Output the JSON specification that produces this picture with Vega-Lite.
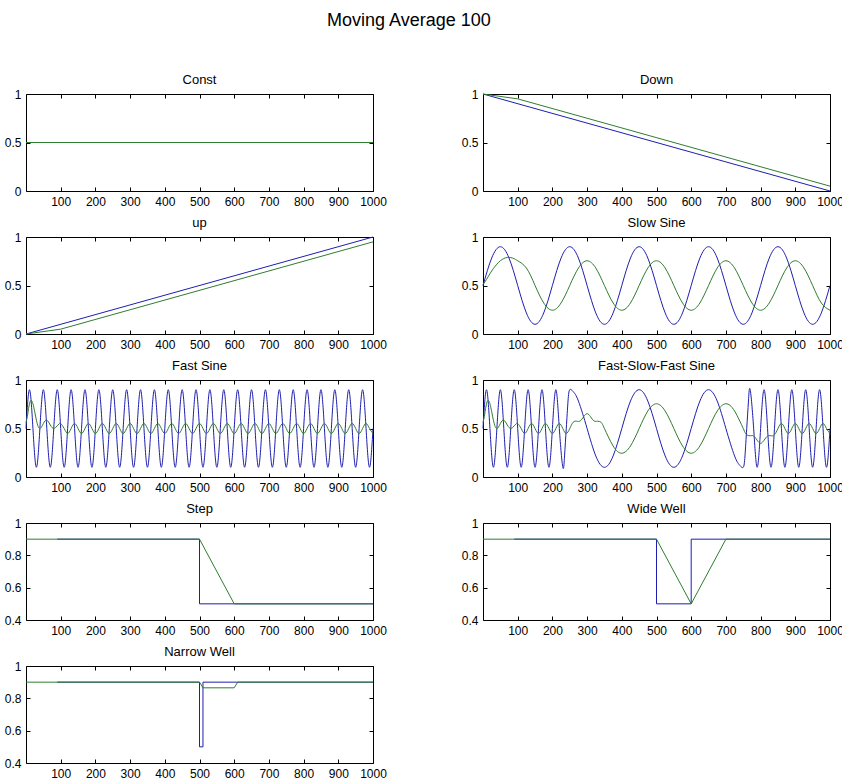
{
"$schema": "https://vega.github.io/schema/vega-lite/v6.json",
"padding": {"left": 3, "top": 11, "right": 0, "bottom": 0},
"background": "#ffffff",
"title": {"text": "Moving Average 100", "fontSize": 18, "anchor": "middle", "offset": 44, "dx": -15},
"columns": 2,
"spacing": {"row": 46, "column": 110},
"bounds": "flush",
"datasets": {
"const_b": [{"x":0,"y":0.5},{"x":1000,"y":0.5}],
"const_g": [{"x":0,"y":0.5},{"x":1000,"y":0.5}],
"down_b": [{"x":0,"y":1},{"x":1000,"y":0}],
"down_g": [{"x":0,"y":1},{"x":100,"y":0.95},{"x":1000,"y":0.05}],
"up_b": [{"x":0,"y":0},{"x":1000,"y":1}],
"up_g": [{"x":0,"y":0},{"x":100,"y":0.05},{"x":1000,"y":0.95}],
"slow_b": [{"x":0,"y":0.5},{"x":25,"y":0.783},{"x":50,"y":0.9},{"x":75,"y":0.783},{"x":100,"y":0.5},{"x":125,"y":0.217},{"x":150,"y":0.1},{"x":175,"y":0.217},{"x":200,"y":0.5},{"x":225,"y":0.783},{"x":250,"y":0.9},{"x":275,"y":0.783},{"x":300,"y":0.5},{"x":325,"y":0.217},{"x":350,"y":0.1},{"x":375,"y":0.217},{"x":400,"y":0.5},{"x":425,"y":0.783},{"x":450,"y":0.9},{"x":475,"y":0.783},{"x":500,"y":0.5},{"x":525,"y":0.217},{"x":550,"y":0.1},{"x":575,"y":0.217},{"x":600,"y":0.5},{"x":625,"y":0.783},{"x":650,"y":0.9},{"x":675,"y":0.783},{"x":700,"y":0.5},{"x":725,"y":0.217},{"x":750,"y":0.1},{"x":775,"y":0.217},{"x":800,"y":0.5},{"x":825,"y":0.783},{"x":850,"y":0.9},{"x":875,"y":0.783},{"x":900,"y":0.5},{"x":925,"y":0.217},{"x":950,"y":0.1},{"x":975,"y":0.217},{"x":1000,"y":0.5}],
"slow_g": [{"x":0,"y":0.51},{"x":10,"y":0.562},{"x":20,"y":0.622},{"x":30,"y":0.675},{"x":40,"y":0.72},{"x":50,"y":0.755},{"x":60,"y":0.778},{"x":70,"y":0.789},{"x":80,"y":0.788},{"x":90,"y":0.776},{"x":100,"y":0.755},{"x":125,"y":0.68},{"x":150,"y":0.5},{"x":175,"y":0.32},{"x":200,"y":0.245},{"x":225,"y":0.32},{"x":250,"y":0.5},{"x":275,"y":0.68},{"x":300,"y":0.755},{"x":325,"y":0.68},{"x":350,"y":0.5},{"x":375,"y":0.32},{"x":400,"y":0.245},{"x":425,"y":0.32},{"x":450,"y":0.5},{"x":475,"y":0.68},{"x":500,"y":0.755},{"x":525,"y":0.68},{"x":550,"y":0.5},{"x":575,"y":0.32},{"x":600,"y":0.245},{"x":625,"y":0.32},{"x":650,"y":0.5},{"x":675,"y":0.68},{"x":700,"y":0.755},{"x":725,"y":0.68},{"x":750,"y":0.5},{"x":775,"y":0.32},{"x":800,"y":0.245},{"x":825,"y":0.32},{"x":850,"y":0.5},{"x":875,"y":0.68},{"x":900,"y":0.755},{"x":925,"y":0.68},{"x":950,"y":0.5},{"x":975,"y":0.32},{"x":1000,"y":0.245}],
"fast_b": [{"x":0,"y":0.5},{"x":10,"y":0.9},{"x":20,"y":0.5},{"x":30,"y":0.1},{"x":40,"y":0.5},{"x":50,"y":0.9},{"x":60,"y":0.5},{"x":70,"y":0.1},{"x":80,"y":0.5},{"x":90,"y":0.9},{"x":100,"y":0.5},{"x":110,"y":0.1},{"x":120,"y":0.5},{"x":130,"y":0.9},{"x":140,"y":0.5},{"x":150,"y":0.1},{"x":160,"y":0.5},{"x":170,"y":0.9},{"x":180,"y":0.5},{"x":190,"y":0.1},{"x":200,"y":0.5},{"x":210,"y":0.9},{"x":220,"y":0.5},{"x":230,"y":0.1},{"x":240,"y":0.5},{"x":250,"y":0.9},{"x":260,"y":0.5},{"x":270,"y":0.1},{"x":280,"y":0.5},{"x":290,"y":0.9},{"x":300,"y":0.5},{"x":310,"y":0.1},{"x":320,"y":0.5},{"x":330,"y":0.9},{"x":340,"y":0.5},{"x":350,"y":0.1},{"x":360,"y":0.5},{"x":370,"y":0.9},{"x":380,"y":0.5},{"x":390,"y":0.1},{"x":400,"y":0.5},{"x":410,"y":0.9},{"x":420,"y":0.5},{"x":430,"y":0.1},{"x":440,"y":0.5},{"x":450,"y":0.9},{"x":460,"y":0.5},{"x":470,"y":0.1},{"x":480,"y":0.5},{"x":490,"y":0.9},{"x":500,"y":0.5},{"x":510,"y":0.1},{"x":520,"y":0.5},{"x":530,"y":0.9},{"x":540,"y":0.5},{"x":550,"y":0.1},{"x":560,"y":0.5},{"x":570,"y":0.9},{"x":580,"y":0.5},{"x":590,"y":0.1},{"x":600,"y":0.5},{"x":610,"y":0.9},{"x":620,"y":0.5},{"x":630,"y":0.1},{"x":640,"y":0.5},{"x":650,"y":0.9},{"x":660,"y":0.5},{"x":670,"y":0.1},{"x":680,"y":0.5},{"x":690,"y":0.9},{"x":700,"y":0.5},{"x":710,"y":0.1},{"x":720,"y":0.5},{"x":730,"y":0.9},{"x":740,"y":0.5},{"x":750,"y":0.1},{"x":760,"y":0.5},{"x":770,"y":0.9},{"x":780,"y":0.5},{"x":790,"y":0.1},{"x":800,"y":0.5},{"x":810,"y":0.9},{"x":820,"y":0.5},{"x":830,"y":0.1},{"x":840,"y":0.5},{"x":850,"y":0.9},{"x":860,"y":0.5},{"x":870,"y":0.1},{"x":880,"y":0.5},{"x":890,"y":0.9},{"x":900,"y":0.5},{"x":910,"y":0.1},{"x":920,"y":0.5},{"x":930,"y":0.9},{"x":940,"y":0.5},{"x":950,"y":0.1},{"x":960,"y":0.5},{"x":970,"y":0.9},{"x":980,"y":0.5},{"x":990,"y":0.1},{"x":1000,"y":0.5}],
"fast_g": [{"x":0,"y":0.56},{"x":5,"y":0.649},{"x":10,"y":0.755},{"x":15,"y":0.79},{"x":20,"y":0.755},{"x":25,"y":0.674},{"x":30,"y":0.585},{"x":35,"y":0.521},{"x":40,"y":0.5},{"x":45,"y":0.517},{"x":50,"y":0.551},{"x":55,"y":0.579},{"x":60,"y":0.585},{"x":65,"y":0.567},{"x":70,"y":0.536},{"x":75,"y":0.51},{"x":80,"y":0.5},{"x":85,"y":0.509},{"x":90,"y":0.528},{"x":95,"y":0.546},{"x":100,"y":0.551},{"x":110,"y":0.5},{"x":120,"y":0.449},{"x":130,"y":0.5},{"x":140,"y":0.551},{"x":150,"y":0.5},{"x":160,"y":0.449},{"x":170,"y":0.5},{"x":180,"y":0.551},{"x":190,"y":0.5},{"x":200,"y":0.449},{"x":210,"y":0.5},{"x":220,"y":0.551},{"x":230,"y":0.5},{"x":240,"y":0.449},{"x":250,"y":0.5},{"x":260,"y":0.551},{"x":270,"y":0.5},{"x":280,"y":0.449},{"x":290,"y":0.5},{"x":300,"y":0.551},{"x":310,"y":0.5},{"x":320,"y":0.449},{"x":330,"y":0.5},{"x":340,"y":0.551},{"x":350,"y":0.5},{"x":360,"y":0.449},{"x":370,"y":0.5},{"x":380,"y":0.551},{"x":390,"y":0.5},{"x":400,"y":0.449},{"x":410,"y":0.5},{"x":420,"y":0.551},{"x":430,"y":0.5},{"x":440,"y":0.449},{"x":450,"y":0.5},{"x":460,"y":0.551},{"x":470,"y":0.5},{"x":480,"y":0.449},{"x":490,"y":0.5},{"x":500,"y":0.551},{"x":510,"y":0.5},{"x":520,"y":0.449},{"x":530,"y":0.5},{"x":540,"y":0.551},{"x":550,"y":0.5},{"x":560,"y":0.449},{"x":570,"y":0.5},{"x":580,"y":0.551},{"x":590,"y":0.5},{"x":600,"y":0.449},{"x":610,"y":0.5},{"x":620,"y":0.551},{"x":630,"y":0.5},{"x":640,"y":0.449},{"x":650,"y":0.5},{"x":660,"y":0.551},{"x":670,"y":0.5},{"x":680,"y":0.449},{"x":690,"y":0.5},{"x":700,"y":0.551},{"x":710,"y":0.5},{"x":720,"y":0.449},{"x":730,"y":0.5},{"x":740,"y":0.551},{"x":750,"y":0.5},{"x":760,"y":0.449},{"x":770,"y":0.5},{"x":780,"y":0.551},{"x":790,"y":0.5},{"x":800,"y":0.449},{"x":810,"y":0.5},{"x":820,"y":0.551},{"x":830,"y":0.5},{"x":840,"y":0.449},{"x":850,"y":0.5},{"x":860,"y":0.551},{"x":870,"y":0.5},{"x":880,"y":0.449},{"x":890,"y":0.5},{"x":900,"y":0.551},{"x":910,"y":0.5},{"x":920,"y":0.449},{"x":930,"y":0.5},{"x":940,"y":0.551},{"x":950,"y":0.5},{"x":960,"y":0.449},{"x":970,"y":0.5},{"x":980,"y":0.551},{"x":990,"y":0.5},{"x":1000,"y":0.449}],
"fsf_b": [{"x":0,"y":0.5},{"x":10,"y":0.9},{"x":20,"y":0.5},{"x":30,"y":0.1},{"x":40,"y":0.5},{"x":50,"y":0.9},{"x":60,"y":0.5},{"x":70,"y":0.1},{"x":80,"y":0.5},{"x":90,"y":0.9},{"x":100,"y":0.5},{"x":110,"y":0.1},{"x":120,"y":0.5},{"x":130,"y":0.9},{"x":140,"y":0.5},{"x":150,"y":0.1},{"x":160,"y":0.5},{"x":170,"y":0.9},{"x":180,"y":0.5},{"x":190,"y":0.1},{"x":200,"y":0.5},{"x":210,"y":0.9},{"x":220,"y":0.5},{"x":230,"y":0.1},{"x":235,"y":0.217},{"x":240,"y":0.5},{"x":245,"y":0.783},{"x":250,"y":0.9},{"x":260,"y":0.88},{"x":275,"y":0.783},{"x":300,"y":0.5},{"x":325,"y":0.217},{"x":350,"y":0.1},{"x":375,"y":0.217},{"x":400,"y":0.5},{"x":425,"y":0.783},{"x":450,"y":0.9},{"x":475,"y":0.783},{"x":500,"y":0.5},{"x":525,"y":0.217},{"x":550,"y":0.1},{"x":575,"y":0.217},{"x":600,"y":0.5},{"x":625,"y":0.783},{"x":650,"y":0.9},{"x":675,"y":0.783},{"x":700,"y":0.5},{"x":725,"y":0.217},{"x":740,"y":0.12},{"x":750,"y":0.1},{"x":755,"y":0.217},{"x":760,"y":0.5},{"x":765,"y":0.783},{"x":770,"y":0.9},{"x":780,"y":0.5},{"x":790,"y":0.1},{"x":800,"y":0.5},{"x":810,"y":0.9},{"x":820,"y":0.5},{"x":830,"y":0.1},{"x":840,"y":0.5},{"x":850,"y":0.9},{"x":860,"y":0.5},{"x":870,"y":0.1},{"x":880,"y":0.5},{"x":890,"y":0.9},{"x":900,"y":0.5},{"x":910,"y":0.1},{"x":920,"y":0.5},{"x":930,"y":0.9},{"x":940,"y":0.5},{"x":950,"y":0.1},{"x":960,"y":0.5},{"x":970,"y":0.9},{"x":980,"y":0.5},{"x":990,"y":0.1},{"x":1000,"y":0.5}],
"fsf_g": [{"x":0,"y":0.56},{"x":5,"y":0.649},{"x":10,"y":0.755},{"x":15,"y":0.79},{"x":20,"y":0.755},{"x":25,"y":0.674},{"x":30,"y":0.585},{"x":35,"y":0.521},{"x":40,"y":0.5},{"x":45,"y":0.517},{"x":50,"y":0.551},{"x":55,"y":0.579},{"x":60,"y":0.585},{"x":65,"y":0.567},{"x":70,"y":0.536},{"x":75,"y":0.51},{"x":80,"y":0.5},{"x":85,"y":0.509},{"x":90,"y":0.528},{"x":95,"y":0.546},{"x":100,"y":0.551},{"x":110,"y":0.5},{"x":120,"y":0.449},{"x":130,"y":0.5},{"x":140,"y":0.551},{"x":150,"y":0.5},{"x":160,"y":0.449},{"x":170,"y":0.5},{"x":180,"y":0.551},{"x":190,"y":0.5},{"x":200,"y":0.449},{"x":210,"y":0.5},{"x":220,"y":0.551},{"x":230,"y":0.5},{"x":240,"y":0.449},{"x":250,"y":0.5},{"x":260,"y":0.565},{"x":270,"y":0.575},{"x":280,"y":0.578},{"x":290,"y":0.621},{"x":300,"y":0.653},{"x":310,"y":0.621},{"x":320,"y":0.578},{"x":330,"y":0.575},{"x":340,"y":0.565},{"x":350,"y":0.5},{"x":375,"y":0.32},{"x":400,"y":0.245},{"x":425,"y":0.32},{"x":450,"y":0.5},{"x":475,"y":0.68},{"x":500,"y":0.755},{"x":525,"y":0.68},{"x":550,"y":0.5},{"x":575,"y":0.32},{"x":600,"y":0.245},{"x":625,"y":0.32},{"x":650,"y":0.5},{"x":675,"y":0.68},{"x":700,"y":0.755},{"x":725,"y":0.68},{"x":750,"y":0.5},{"x":760,"y":0.435},{"x":770,"y":0.425},{"x":780,"y":0.4225},{"x":790,"y":0.379},{"x":800,"y":0.347},{"x":810,"y":0.379},{"x":820,"y":0.4225},{"x":830,"y":0.425},{"x":840,"y":0.435},{"x":850,"y":0.5},{"x":860,"y":0.551},{"x":870,"y":0.5},{"x":880,"y":0.449},{"x":890,"y":0.5},{"x":900,"y":0.551},{"x":910,"y":0.5},{"x":920,"y":0.449},{"x":930,"y":0.5},{"x":940,"y":0.551},{"x":950,"y":0.5},{"x":960,"y":0.449},{"x":970,"y":0.5},{"x":980,"y":0.551},{"x":990,"y":0.5},{"x":1000,"y":0.449}],
"step_b": [{"x":90,"y":0.9},{"x":500,"y":0.9},{"x":500,"y":0.5},{"x":1000,"y":0.5}],
"step_g": [{"x":0,"y":0.9},{"x":500,"y":0.9},{"x":600,"y":0.5},{"x":1000,"y":0.5}],
"wide_b": [{"x":90,"y":0.9},{"x":500,"y":0.9},{"x":500,"y":0.5},{"x":600,"y":0.5},{"x":600,"y":0.9},{"x":1000,"y":0.9}],
"wide_g": [{"x":0,"y":0.9},{"x":500,"y":0.9},{"x":600,"y":0.5},{"x":700,"y":0.9},{"x":1000,"y":0.9}],
"narrow_b": [{"x":90,"y":0.9},{"x":500,"y":0.9},{"x":500,"y":0.5},{"x":510,"y":0.5},{"x":510,"y":0.9},{"x":1000,"y":0.9}],
"narrow_g": [{"x":0,"y":0.9},{"x":500,"y":0.9},{"x":510,"y":0.865},{"x":600,"y":0.865},{"x":610,"y":0.9},{"x":1000,"y":0.9}]
},
"concat": [
{"title": "Const", "width": 347, "height": 97,
 "layer": [
  {"data": {"name": "const_b"}, "mark": {"type": "line", "color": "#1e1eb0"},
   "encoding": {"x": {"field": "x", "type": "quantitative", "scale": {"domain": [0, 1000], "nice": false}, "axis": {"orient": "bottom", "values": [100,200,300,400,500,600,700,800,900,1000], "format": "d", "title": null}},
                "y": {"field": "y", "type": "quantitative", "scale": {"domain": [0, 1], "nice": false, "zero": false}, "axis": {"orient": "left", "values": [0,0.5,1], "format": "~g", "title": null}}}},
  {"data": {"name": "const_g"}, "mark": {"type": "line", "color": "#2e7d2e"},
   "encoding": {"x": {"field": "x", "type": "quantitative", "axis": {"orient": "top", "values": [100,200,300,400,500,600,700,800,900,1000], "labels": false, "title": null}},
                "y": {"field": "y", "type": "quantitative", "axis": {"orient": "right", "values": [0,0.5,1], "labels": false, "title": null}}}}
 ],
 "resolve": {"axis": {"x": "independent", "y": "independent"}}},
{"title": "Down", "width": 347, "height": 97,
 "layer": [
  {"data": {"name": "down_b"}, "mark": {"type": "line", "color": "#1e1eb0"},
   "encoding": {"x": {"field": "x", "type": "quantitative", "scale": {"domain": [0, 1000], "nice": false}, "axis": {"orient": "bottom", "values": [100,200,300,400,500,600,700,800,900,1000], "format": "d", "title": null}},
                "y": {"field": "y", "type": "quantitative", "scale": {"domain": [0, 1], "nice": false, "zero": false}, "axis": {"orient": "left", "values": [0,0.5,1], "format": "~g", "title": null}}}},
  {"data": {"name": "down_g"}, "mark": {"type": "line", "color": "#2e7d2e"},
   "encoding": {"x": {"field": "x", "type": "quantitative", "axis": {"orient": "top", "values": [100,200,300,400,500,600,700,800,900,1000], "labels": false, "title": null}},
                "y": {"field": "y", "type": "quantitative", "axis": {"orient": "right", "values": [0,0.5,1], "labels": false, "title": null}}}}
 ],
 "resolve": {"axis": {"x": "independent", "y": "independent"}}},
{"title": "up", "width": 347, "height": 97,
 "layer": [
  {"data": {"name": "up_b"}, "mark": {"type": "line", "color": "#1e1eb0"},
   "encoding": {"x": {"field": "x", "type": "quantitative", "scale": {"domain": [0, 1000], "nice": false}, "axis": {"orient": "bottom", "values": [100,200,300,400,500,600,700,800,900,1000], "format": "d", "title": null}},
                "y": {"field": "y", "type": "quantitative", "scale": {"domain": [0, 1], "nice": false, "zero": false}, "axis": {"orient": "left", "values": [0,0.5,1], "format": "~g", "title": null}}}},
  {"data": {"name": "up_g"}, "mark": {"type": "line", "color": "#2e7d2e"},
   "encoding": {"x": {"field": "x", "type": "quantitative", "axis": {"orient": "top", "values": [100,200,300,400,500,600,700,800,900,1000], "labels": false, "title": null}},
                "y": {"field": "y", "type": "quantitative", "axis": {"orient": "right", "values": [0,0.5,1], "labels": false, "title": null}}}}
 ],
 "resolve": {"axis": {"x": "independent", "y": "independent"}}},
{"title": "Slow Sine", "width": 347, "height": 97,
 "layer": [
  {"data": {"name": "slow_b"}, "mark": {"type": "line", "color": "#1e1eb0", "interpolate": "natural"},
   "encoding": {"x": {"field": "x", "type": "quantitative", "scale": {"domain": [0, 1000], "nice": false}, "axis": {"orient": "bottom", "values": [100,200,300,400,500,600,700,800,900,1000], "format": "d", "title": null}},
                "y": {"field": "y", "type": "quantitative", "scale": {"domain": [0, 1], "nice": false, "zero": false}, "axis": {"orient": "left", "values": [0,0.5,1], "format": "~g", "title": null}}}},
  {"data": {"name": "slow_g"}, "mark": {"type": "line", "color": "#2e7d2e", "interpolate": "natural"},
   "encoding": {"x": {"field": "x", "type": "quantitative", "axis": {"orient": "top", "values": [100,200,300,400,500,600,700,800,900,1000], "labels": false, "title": null}},
                "y": {"field": "y", "type": "quantitative", "axis": {"orient": "right", "values": [0,0.5,1], "labels": false, "title": null}}}}
 ],
 "resolve": {"axis": {"x": "independent", "y": "independent"}}},
{"title": "Fast Sine", "width": 347, "height": 97,
 "layer": [
  {"data": {"name": "fast_b"}, "mark": {"type": "line", "color": "#1e1eb0", "interpolate": "natural"},
   "encoding": {"x": {"field": "x", "type": "quantitative", "scale": {"domain": [0, 1000], "nice": false}, "axis": {"orient": "bottom", "values": [100,200,300,400,500,600,700,800,900,1000], "format": "d", "title": null}},
                "y": {"field": "y", "type": "quantitative", "scale": {"domain": [0, 1], "nice": false, "zero": false}, "axis": {"orient": "left", "values": [0,0.5,1], "format": "~g", "title": null}}}},
  {"data": {"name": "fast_g"}, "mark": {"type": "line", "color": "#2e7d2e", "interpolate": "natural"},
   "encoding": {"x": {"field": "x", "type": "quantitative", "axis": {"orient": "top", "values": [100,200,300,400,500,600,700,800,900,1000], "labels": false, "title": null}},
                "y": {"field": "y", "type": "quantitative", "axis": {"orient": "right", "values": [0,0.5,1], "labels": false, "title": null}}}}
 ],
 "resolve": {"axis": {"x": "independent", "y": "independent"}}},
{"title": "Fast-Slow-Fast Sine", "width": 347, "height": 97,
 "layer": [
  {"data": {"name": "fsf_b"}, "mark": {"type": "line", "color": "#1e1eb0", "interpolate": "natural"},
   "encoding": {"x": {"field": "x", "type": "quantitative", "scale": {"domain": [0, 1000], "nice": false}, "axis": {"orient": "bottom", "values": [100,200,300,400,500,600,700,800,900,1000], "format": "d", "title": null}},
                "y": {"field": "y", "type": "quantitative", "scale": {"domain": [0, 1], "nice": false, "zero": false}, "axis": {"orient": "left", "values": [0,0.5,1], "format": "~g", "title": null}}}},
  {"data": {"name": "fsf_g"}, "mark": {"type": "line", "color": "#2e7d2e", "interpolate": "natural"},
   "encoding": {"x": {"field": "x", "type": "quantitative", "axis": {"orient": "top", "values": [100,200,300,400,500,600,700,800,900,1000], "labels": false, "title": null}},
                "y": {"field": "y", "type": "quantitative", "axis": {"orient": "right", "values": [0,0.5,1], "labels": false, "title": null}}}}
 ],
 "resolve": {"axis": {"x": "independent", "y": "independent"}}},
{"title": "Step", "width": 347, "height": 97,
 "layer": [
  {"data": {"name": "step_b"}, "mark": {"type": "line", "color": "#1e1eb0"},
   "encoding": {"x": {"field": "x", "type": "quantitative", "scale": {"domain": [0, 1000], "nice": false}, "axis": {"orient": "bottom", "values": [100,200,300,400,500,600,700,800,900,1000], "format": "d", "title": null}},
                "y": {"field": "y", "type": "quantitative", "scale": {"domain": [0.4, 1], "nice": false, "zero": false}, "axis": {"orient": "left", "values": [0.4,0.6,0.8,1], "format": "~g", "title": null}}}},
  {"data": {"name": "step_g"}, "mark": {"type": "line", "color": "#2e7d2e"},
   "encoding": {"x": {"field": "x", "type": "quantitative", "axis": {"orient": "top", "values": [100,200,300,400,500,600,700,800,900,1000], "labels": false, "title": null}},
                "y": {"field": "y", "type": "quantitative", "axis": {"orient": "right", "values": [0.4,0.6,0.8,1], "labels": false, "title": null}}}}
 ],
 "resolve": {"axis": {"x": "independent", "y": "independent"}}},
{"title": "Wide Well", "width": 347, "height": 97,
 "layer": [
  {"data": {"name": "wide_b"}, "mark": {"type": "line", "color": "#1e1eb0"},
   "encoding": {"x": {"field": "x", "type": "quantitative", "scale": {"domain": [0, 1000], "nice": false}, "axis": {"orient": "bottom", "values": [100,200,300,400,500,600,700,800,900,1000], "format": "d", "title": null}},
                "y": {"field": "y", "type": "quantitative", "scale": {"domain": [0.4, 1], "nice": false, "zero": false}, "axis": {"orient": "left", "values": [0.4,0.6,0.8,1], "format": "~g", "title": null}}}},
  {"data": {"name": "wide_g"}, "mark": {"type": "line", "color": "#2e7d2e"},
   "encoding": {"x": {"field": "x", "type": "quantitative", "axis": {"orient": "top", "values": [100,200,300,400,500,600,700,800,900,1000], "labels": false, "title": null}},
                "y": {"field": "y", "type": "quantitative", "axis": {"orient": "right", "values": [0.4,0.6,0.8,1], "labels": false, "title": null}}}}
 ],
 "resolve": {"axis": {"x": "independent", "y": "independent"}}},
{"title": "Narrow Well", "width": 347, "height": 97,
 "layer": [
  {"data": {"name": "narrow_b"}, "mark": {"type": "line", "color": "#1e1eb0"},
   "encoding": {"x": {"field": "x", "type": "quantitative", "scale": {"domain": [0, 1000], "nice": false}, "axis": {"orient": "bottom", "values": [100,200,300,400,500,600,700,800,900,1000], "format": "d", "title": null}},
                "y": {"field": "y", "type": "quantitative", "scale": {"domain": [0.4, 1], "nice": false, "zero": false}, "axis": {"orient": "left", "values": [0.4,0.6,0.8,1], "format": "~g", "title": null}}}},
  {"data": {"name": "narrow_g"}, "mark": {"type": "line", "color": "#2e7d2e"},
   "encoding": {"x": {"field": "x", "type": "quantitative", "axis": {"orient": "top", "values": [100,200,300,400,500,600,700,800,900,1000], "labels": false, "title": null}},
                "y": {"field": "y", "type": "quantitative", "axis": {"orient": "right", "values": [0.4,0.6,0.8,1], "labels": false, "title": null}}}}
 ],
 "resolve": {"axis": {"x": "independent", "y": "independent"}}}
],
"config": {
 "font": "Liberation Sans",
 "view": {"stroke": "#000000", "strokeWidth": 1},
 "line": {"strokeWidth": 1},
 "axis": {"grid": false, "domain": false, "ticks": true, "tickColor": "#000000", "tickSize": -4, "tickWidth": 1, "labelFont": "Liberation Sans", "labelFontSize": 12, "labelColor": "#000000", "labelPadding": 9, "labelFlush": false, "labelOverlap": false},
 "title": {"font": "Liberation Sans", "fontSize": 13, "fontWeight": "normal", "color": "#000000", "offset": 1}
}
}
